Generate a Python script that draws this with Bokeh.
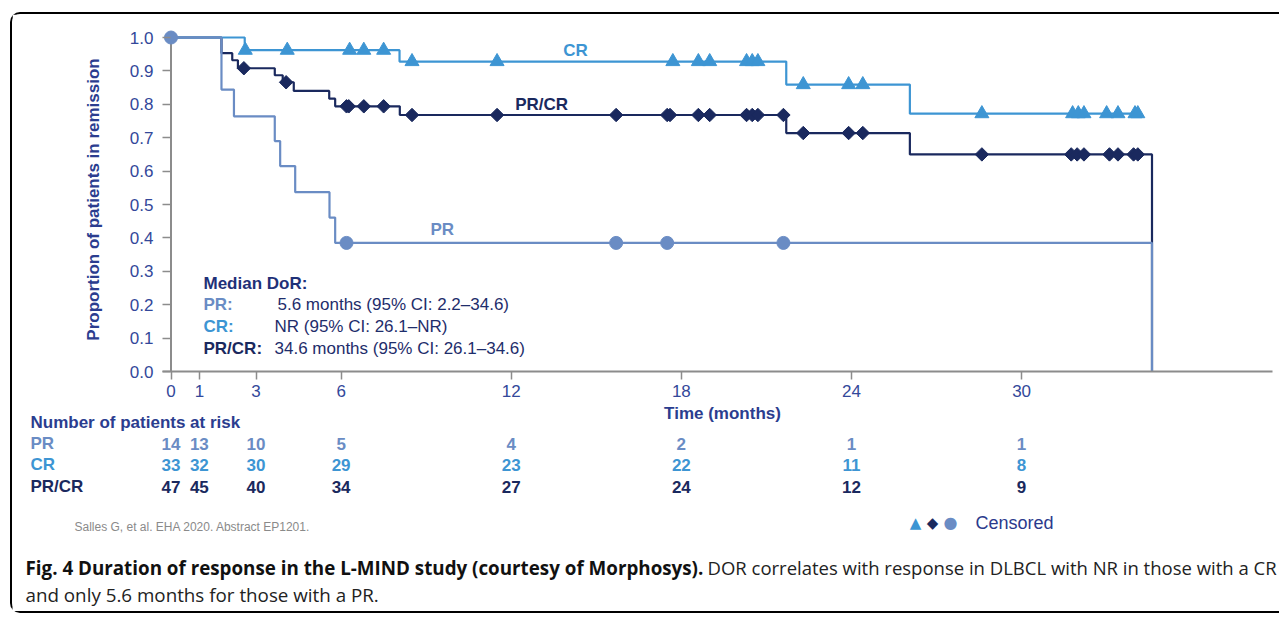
import numpy as np
from bokeh.plotting import figure
from bokeh.models import Label, FixedTicker, PrintfTickFormatter, Range1d
from bokeh.embed import file_html
from bokeh.resources import INLINE

# ---------------- data ----------------
pr_times = [0, 1.78, 2.22, 3.66, 3.85, 4.38, 5.59, 5.79, 34.6]
pr_surv = [1.0, 0.844, 0.764, 0.690, 0.615, 0.537, 0.461, 0.385, 0.0]
pr_censor = [0.0, 6.19, 15.7, 17.5, 21.6]

cr_times = [0, 2.6, 8.06, 21.7, 26.06, 34.2]
cr_surv = [1.0, 0.962, 0.928, 0.859, 0.772, 0.772]
cr_censor = [2.62, 4.1, 6.3, 6.8, 7.5, 8.5, 11.5, 17.7, 18.6, 19.0, 20.3, 20.5, 20.7,
             22.3, 23.9, 24.4, 28.6, 31.8, 32.0, 32.2, 33.0, 33.4, 34.0, 34.1]

prcr_times = [0, 1.78, 2.16, 2.36, 3.66, 3.94, 4.33, 5.58, 5.79, 8.07, 21.7, 26.06, 34.6]
prcr_surv = [1.0, 0.953, 0.932, 0.908, 0.887, 0.866, 0.840, 0.817, 0.794, 0.768, 0.714, 0.650, 0.0]
prcr_censor = [2.57, 4.06, 6.19, 6.27, 6.8, 7.5, 8.5, 11.5, 15.7, 17.5, 17.6, 18.6, 19.0,
               20.3, 20.5, 20.7, 21.6, 22.3, 23.9, 24.4, 28.6, 31.75, 31.96, 32.2, 33.1,
               33.4, 33.95, 34.1]

x_ticks = [0, 1, 3, 6, 12, 18, 24, 30]
y_ticks = [0.0, 0.1, 0.2, 0.3, 0.4, 0.5, 0.6, 0.7, 0.8, 0.9, 1.0]

risk_times = [0, 1, 3, 6, 12, 18, 24, 30]
risk_pr = [14, 13, 10, 5, 4, 2, 1, 1]
risk_cr = [33, 32, 30, 29, 23, 22, 11, 8]
risk_prcr = [47, 45, 40, 34, 27, 24, 12, 9]

median_rows = [("PR:", "5.6 months (95% CI: 2.2\u201334.6)"),
               ("CR:", "NR (95% CI: 26.1\u2013NR)"),
               ("PR/CR:", "34.6 months (95% CI: 26.1\u201334.6)")]

# ---------------- style ----------------
C_PR = "#6a8cc4"
C_CR = "#3d95d3"
C_PRCR = "#1a295e"
C_TICK = "#33489a"
C_TITLE = "#2b3d8f"
C_AXIS = "#8c8c8c"
FONT = "Liberation Sans"

W = 1269
H_TOP, H_BOT = 390, 211
ML, MR, MT, MB = 150, 9, 13, 33
X0, X1 = -0.30, 38.85
PAGE_LEFT, PAGE_TOP = 12, 14          # canvas origin on the page (margin + border)
FRAME_LEFT_PAGE = PAGE_LEFT + ML
FRAME_BOTTOM_PAGE = PAGE_TOP + H_TOP - MB

# ================= top: Kaplan-Meier chart =================
p = figure(width=W, height=H_TOP, output_backend="svg", toolbar_location=None,
           x_range=Range1d(X0, X1), y_range=Range1d(0, 1.03),
           min_border_left=ML, min_border_right=MR, min_border_top=MT, min_border_bottom=MB,
           margin=(12, 0, 0, 10),
           styles={"border-top": "2px solid #000", "border-left": "2px solid #000",
                   "border-top-left-radius": "10px"})
p.outline_line_color = None
p.grid.visible = False
p.background_fill_color = "white"
p.border_fill_color = "white"

xa = p.xaxis[0]
xa.ticker = FixedTicker(ticks=x_ticks)
xa.axis_line_color = C_AXIS
xa.axis_line_width = 2
xa.major_tick_line_color = C_AXIS
xa.major_tick_line_width = 1.5
xa.major_tick_in = 0
xa.major_tick_out = 8
xa.minor_tick_line_color = None
xa.major_label_text_font = FONT
xa.major_label_text_font_size = "17px"
xa.major_label_text_color = C_TICK
xa.major_label_standoff = 5

ya = p.yaxis[0]
ya.ticker = FixedTicker(ticks=y_ticks)
ya.formatter = PrintfTickFormatter(format="%.1f")
ya.axis_line_color = None
ya.major_tick_line_color = C_AXIS
ya.major_tick_line_width = 1.5
ya.major_tick_in = 8
ya.major_tick_out = 0
ya.minor_tick_line_color = None
ya.major_label_text_font = FONT
ya.major_label_text_font_size = "17px"
ya.major_label_text_color = C_TICK
ya.major_label_standoff = 9
ya.axis_label = "Proportion of patients in remission"
ya.axis_label_text_font = FONT
ya.axis_label_text_font_size = "17px"
ya.axis_label_text_font_style = "bold"
ya.axis_label_text_color = C_TITLE
ya.axis_label_standoff = 24

p.segment(x0=[0], y0=[y_ticks[0]], x1=[0], y1=[y_ticks[-1]], line_color=C_AXIS, line_width=2)


def surv_at(times, surv, ts):
    times = np.asarray(times)
    surv = np.asarray(surv)
    idx = np.searchsorted(times, ts, side="right") - 1
    return surv[idx]


p.step(x=prcr_times, y=prcr_surv, mode="after", line_color=C_PRCR, line_width=2.2)
p.scatter(x=prcr_censor, y=surv_at(prcr_times, prcr_surv, prcr_censor), marker="square",
          angle=np.pi / 4, size=9.5, fill_color=C_PRCR, line_color=C_PRCR)
p.step(x=cr_times, y=cr_surv, mode="after", line_color=C_CR, line_width=2.2)
p.scatter(x=cr_censor, y=surv_at(cr_times, cr_surv, cr_censor), marker="triangle",
          size=14, fill_color=C_CR, line_color=C_CR)
p.step(x=pr_times, y=pr_surv, mode="after", line_color=C_PR, line_width=2.2)
p.scatter(x=pr_censor, y=surv_at(pr_times, pr_surv, pr_censor), marker="circle",
          size=13, fill_color=C_PR, line_color=C_PR)

for txt, x, y, c in [("CR", 14.27, 0.961, C_CR), ("PR/CR", 13.07, 0.80, C_PRCR), ("PR", 9.57, 0.426, C_PR)]:
    p.add_layout(Label(x=x, y=y, text=txt, text_font=FONT, text_font_size="17px",
                       text_font_style="bold", text_color=c, text_align="center",
                       text_baseline="middle"))


def top_label(text, px, py, color, style="normal"):
    p.add_layout(Label(x=px - FRAME_LEFT_PAGE, y=FRAME_BOTTOM_PAGE - py, x_units="screen",
                       y_units="screen", text=text, text_font=FONT, text_font_size="17px",
                       text_font_style=style, text_color=color, text_align="left",
                       text_baseline="middle"))


top_label("Median DoR:", 203, 283, "#1f3178", "bold")
for (lab, val), yy, cc, xx in zip(median_rows, [304, 326, 348], [C_PR, C_CR, C_PRCR], [277, 274, 274]):
    top_label(lab, 203, yy, cc, "bold")
    top_label(val, xx, yy, "#1e2d6b")

# ================= bottom: risk table, legend, caption =================
px_per_month = (W - ML - MR) / (X1 - X0)
bx0 = X0 - ML / px_per_month
bx1 = X1 + MR / px_per_month
q = figure(width=W, height=H_BOT, output_backend="svg", toolbar_location=None,
           x_range=Range1d(bx0, bx1), y_range=Range1d(0, H_BOT),
           x_axis_location=None, y_axis_location=None, min_border=0,
           margin=(0, 0, 0, 10),
           styles={"border-left": "2px solid #000", "border-bottom": "2px solid #000",
                   "border-bottom-left-radius": "10px"})
q.outline_line_color = None
q.grid.visible = False
q.background_fill_color = "white"
q.border_fill_color = "white"
BOT_PAGE_TOP = PAGE_TOP + H_TOP


def blabel(text, px, py, size="17px", color=C_TITLE, style="normal", align="left",
           font=FONT, xunits="screen"):
    x = px - PAGE_LEFT if xunits == "screen" else px
    q.add_layout(Label(x=x, y=BOT_PAGE_TOP + H_BOT - py, x_units=xunits, y_units="screen",
                       text=text, text_font=font, text_font_size=size, text_font_style=style,
                       text_color=color, text_align=align, text_baseline="middle"))


blabel("Time (months)", 722, 415, style="bold", align="center")
blabel("Number of patients at risk", 30, 424, style="bold")
for lab, vals, yy, cc in [("PR", risk_pr, 445, C_PR), ("CR", risk_cr, 466, C_CR),
                          ("PR/CR", risk_prcr, 488, C_PRCR)]:
    blabel(lab, 30, yy, style="bold", color=cc)
    for t, v in zip(risk_times, vals):
        blabel(str(v), t, yy, style="bold", color=cc, align="center", xunits="data")

blabel("Salles G, et al. EHA 2020. Abstract EP1201.", 74, 528, size="12px", color="#8a8a8a")

blabel("\u25B2", 915, 524, size="15px", color=C_CR, align="center", font="DejaVu Sans")
blabel("\u25C6", 932, 524, size="15px", color=C_PRCR, align="center", font="DejaVu Sans")
blabel("\u25CF", 950, 524, size="16px", color=C_PR, align="center", font="DejaVu Sans")
blabel("Censored", 975, 524, size="18px", color="#2b3a8c")

blabel("Fig. 4 Duration of response in the L-MIND study (courtesy of Morphosys).", 25, 569,
       size="18.8px", style="bold", color="#111111", font="Open Sans")
blabel("DOR correlates with response in DLBCL with NR in those with a CR", 707, 569,
       size="18.5px", color="#222222", font="Open Sans")
blabel("and only 5.6 months for those with a PR.", 25, 596, size="18.8px", color="#222222",
       font="Open Sans")

open("out.html", "w").write(file_html([p, q], INLINE))
